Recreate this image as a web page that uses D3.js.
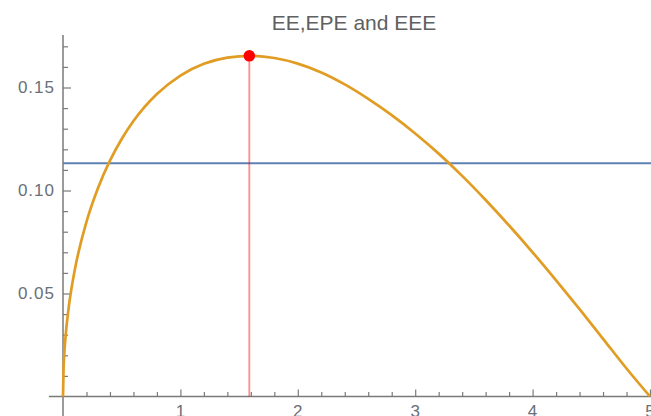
<!DOCTYPE html>
<html>
<head>
<meta charset="utf-8">
<script src="https://cdn.jsdelivr.net/npm/d3@7"></script>
<style>
  html, body { margin: 0; padding: 0; background: #fff; overflow: hidden; }
  svg { display: block; }
  .tick text { font-family: "Liberation Sans", Arial, sans-serif; fill: #6a6f78; }
</style>
</head>
<body>
<svg id="chart" width="651" height="416"></svg>
<script>
// Exposure profile over time (years)
const title = "EE,EPE and EEE";
const times = [0, 0.005, 0.01, 0.02, 0.05, 0.1, 0.2, 0.3, 0.4, 0.5, 0.6, 0.8, 1.0, 1.2, 1.4, 1.6,
               1.8, 2.0, 2.2, 2.4, 2.6, 2.8, 3.0, 3.2, 3.4, 3.6, 3.8, 4.0, 4.2, 4.4, 4.6, 4.8, 5.0];
const expectedExposure = [0, 0.0140, 0.0198, 0.0279, 0.0438, 0.0613, 0.0848, 0.1015, 0.1145, 0.1250,
                          0.1337, 0.1468, 0.1558, 0.1615, 0.1645, 0.1654, 0.1643, 0.1616, 0.1573,
                          0.1515, 0.1445, 0.1366, 0.1277, 0.1179, 0.1071, 0.0954, 0.0830, 0.0700,
                          0.0564, 0.0424, 0.0280, 0.0136, 0];
// Effective expected positive exposure (flat level)
const epeLevel = 0.1132;
// Peak exposure
const peakTime = 1.587;
const peakValue = 0.1654;

const xTickValues = [1, 2, 3, 4, 5];
const xTickLabels = ["1", "2", "3", "4", "5"];
const yTickValues = [0.05, 0.10, 0.15];
const yTickLabels = ["0.05", "0.10", "0.15"];
const xMinorTicks = [0.2, 0.4, 0.6, 0.8, 1.2, 1.4, 1.6, 1.8, 2.2, 2.4, 2.6, 2.8,
                     3.2, 3.4, 3.6, 3.8, 4.2, 4.4, 4.6, 4.8];
const yMinorTicks = [0.01, 0.02, 0.03, 0.04, 0.06, 0.07, 0.08, 0.09, 0.11, 0.12,
                     0.13, 0.14, 0.16, 0.17];

const svg = d3.select("#chart");
const W = 651, H = 416;

const x = d3.scaleLinear().domain([0, 5]).range([63, 650]);
const y = d3.scaleLinear().domain([0, 0.15]).range([396.5, 87.5]);

const axisColor = "#7a7a7a";

// Axis lines, extended slightly past the data range
svg.append("line")
  .attr("x1", x(-0.12)).attr("x2", x(5.2))
  .attr("y1", y(0)).attr("y2", y(0))
  .attr("stroke", axisColor).attr("stroke-width", 1.5);
svg.append("line")
  .attr("x1", x(0)).attr("x2", x(0))
  .attr("y1", y(-0.012)).attr("y2", y(0.1755))
  .attr("stroke", axisColor).attr("stroke-width", 1.5);

// Major ticks point inward, labels outside
const xAxis = d3.axisBottom(x)
  .tickValues(xTickValues)
  .tickFormat((d, i) => xTickLabels[i])
  .tickSizeInner(-7).tickSizeOuter(0).tickPadding(8);
const yAxis = d3.axisLeft(y)
  .tickValues(yTickValues)
  .tickFormat((d, i) => yTickLabels[i])
  .tickSizeInner(-8).tickSizeOuter(0).tickPadding(8);

const gx = svg.append("g").attr("transform", `translate(0,${y(0)})`).call(xAxis);
const gy = svg.append("g").attr("transform", `translate(${x(0)},0)`).call(yAxis);

// Minor ticks
const gxm = svg.append("g").attr("transform", `translate(0,${y(0)})`)
  .call(d3.axisBottom(x).tickValues(xMinorTicks).tickFormat("").tickSizeInner(-4.5).tickSizeOuter(0));
const gym = svg.append("g").attr("transform", `translate(${x(0)},0)`)
  .call(d3.axisLeft(y).tickValues(yMinorTicks).tickFormat("").tickSizeInner(-5).tickSizeOuter(0));

[gx, gy, gxm, gym].forEach(g => {
  g.select(".domain").remove();
  g.selectAll(".tick line").attr("stroke", axisColor).attr("stroke-width", 1.2);
});
gx.selectAll(".tick text").attr("font-size", 17).attr("letter-spacing", "1px");
gy.selectAll(".tick text").attr("font-size", 17).attr("letter-spacing", "1px");

// Flat EPE level
svg.append("line")
  .attr("x1", x(0)).attr("x2", W + 5)
  .attr("y1", y(epeLevel)).attr("y2", y(epeLevel))
  .attr("stroke", "#5e81b5").attr("stroke-width", 2);

// EE curve
const curve = times.map((t, i) => [t, expectedExposure[i]]);
svg.append("path")
  .datum(curve)
  .attr("fill", "none")
  .attr("stroke", "#e19c24")
  .attr("stroke-width", 2.7)
  .attr("stroke-linejoin", "round")
  .attr("d", d3.line().x(d => x(d[0])).y(d => y(d[1])).curve(d3.curveMonotoneX));

// Peak marker and drop line
svg.append("line")
  .attr("x1", x(peakTime)).attr("x2", x(peakTime))
  .attr("y1", y(0)).attr("y2", y(peakValue))
  .attr("stroke", "#ff0000").attr("stroke-opacity", 0.45).attr("stroke-width", 1.8);
svg.append("circle")
  .attr("cx", x(peakTime)).attr("cy", y(peakValue)).attr("r", 5.8)
  .attr("fill", "#ff0000");

// Title
svg.append("text")
  .attr("x", 354).attr("y", 30)
  .attr("text-anchor", "middle")
  .attr("font-family", "Liberation Sans, Arial, sans-serif")
  .attr("font-size", 21)
  .attr("fill", "#606060")
  .text(title);
</script>
</body>
</html>
